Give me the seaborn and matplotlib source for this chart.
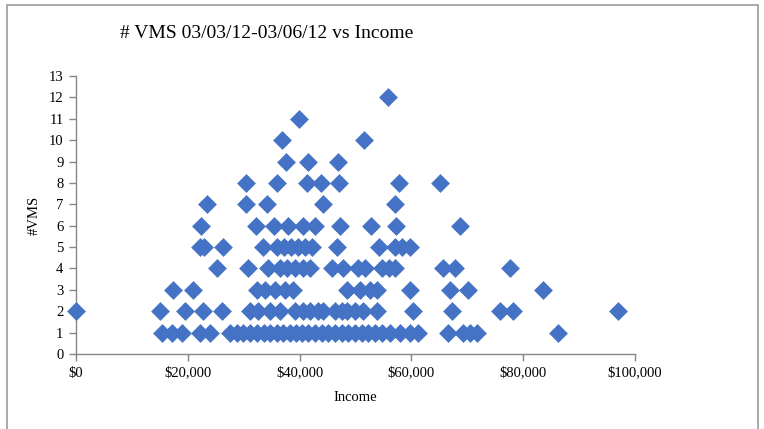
import matplotlib
matplotlib.use("Agg")
import matplotlib.pyplot as plt
from matplotlib.patches import Rectangle
from matplotlib.ticker import FuncFormatter
import seaborn as sns
import pandas as pd

# Incomes (in $) of points at each #VMS level
income_vms_1 = [15400, 17200, 19000, 22200, 24000, 27600, 28800, 29900, 31100, 32400,
                33600, 34700, 36000, 37000, 38300, 39400, 40400, 41500, 42800, 44000,
                45100, 46300, 47600, 48700, 49900, 51200, 52200, 53500, 54700, 56200,
                58000, 59800, 61200, 66600, 69200, 70500, 71700, 86200]
income_vms_2 = [0, 15000, 19500, 22700, 26100, 31100, 32600, 34700, 36500, 39200,
                40600, 41900, 43300, 44200, 46300, 47600, 48500, 49900, 51300, 53800,
                60300, 67300, 75900, 78200, 97000]
income_vms_3 = [17400, 20900, 32400, 33800, 35600, 37400, 38800, 48500, 50800, 52600,
                53800, 59800, 66900, 70100, 83500]
income_vms_4 = [25200, 30800, 34300, 36500, 37700, 39200, 40600, 41900, 45800, 47800,
                50400, 51700, 54700, 56000, 57100, 65700, 67800, 77600]
income_vms_5 = [22200, 22900, 26300, 33500, 36000, 37200, 38500, 39700, 41000, 42200,
                46700, 54200, 57100, 58300, 59800]
income_vms_6 = [22400, 32200, 35400, 37900, 40600, 42800, 47200, 52800, 57200, 68700]
income_vms_7 = [23400, 30400, 34200, 44200, 57100]
income_vms_8 = [30400, 36000, 41300, 43800, 47000, 57800, 65100]
income_vms_9 = [37600, 41500, 46900]
income_vms_10 = [36900, 51500]
income_vms_11 = [39900]
income_vms_12 = [55800]

levels = {1: income_vms_1, 2: income_vms_2, 3: income_vms_3, 4: income_vms_4,
          5: income_vms_5, 6: income_vms_6, 7: income_vms_7, 8: income_vms_8,
          9: income_vms_9, 10: income_vms_10, 11: income_vms_11, 12: income_vms_12}
rows = [(inc, v) for v, incs in levels.items() for inc in incs]
df = pd.DataFrame(rows, columns=["Income", "VMS"])

x_ticks = [0, 20000, 40000, 60000, 80000, 100000]
y_ticks = list(range(0, 14))
title = "# VMS 03/03/12-03/06/12 vs Income"

sns.set_theme(style="white")
plt.rcParams["font.family"] = ["Liberation Serif", "DejaVu Serif"]

W, H = 764, 429
fig = plt.figure(figsize=(W / 100, H / 100), dpi=100)
ax = fig.add_axes([76 / W, 1 - 354 / H, (635 - 76) / W, (354 - 76) / H])

sns.scatterplot(data=df, x="Income", y="VMS", marker="D", s=92, color="#4472C4",
                edgecolor="#4472C4", linewidth=0, ax=ax, clip_on=False, zorder=3)

ax.set_xlim(0, 100000)
ax.set_ylim(0, 13)
ax.set_xticks(x_ticks)
ax.set_yticks(y_ticks)
ax.xaxis.set_major_formatter(FuncFormatter(lambda v, p: f"${v:,.0f}"))

for side in ["top", "right"]:
    ax.spines[side].set_visible(False)
for side in ["left", "bottom"]:
    ax.spines[side].set_color("#868686")
    ax.spines[side].set_linewidth(1.0)

ax.tick_params(axis="both", which="major", direction="out", length=5, width=1,
               color="#868686", labelsize=10.5, labelcolor="black",
               bottom=True, left=True)
ax.tick_params(axis="x", pad=4)
ax.tick_params(axis="y", pad=4)

ax.set_xlabel("Income", fontsize=10.5, color="black", labelpad=8)
ax.set_ylabel("#VMS", fontsize=10.5, color="black", labelpad=6)

fig.text(120 / W, 1 - 33 / H, title, fontsize=14, ha="left", va="center", color="black")

# outer chart border
fig.patches.append(Rectangle((7 / W, -0.02), (758 - 7) / W, (1.02 - 5 / H),
                             transform=fig.transFigure, fill=False,
                             edgecolor="#9a9a9a", linewidth=1.2))

fig.savefig("out.png", dpi=100)
